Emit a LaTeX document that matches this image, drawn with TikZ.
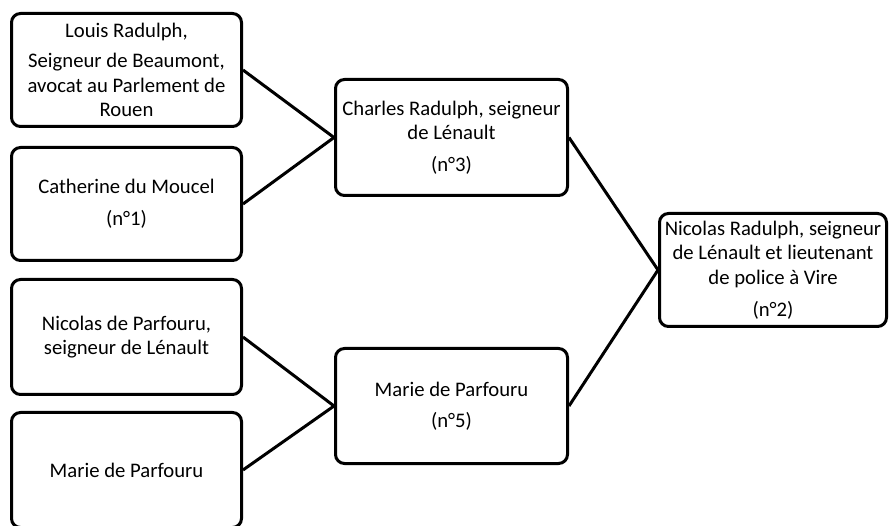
\documentclass[tikz,border=0pt]{standalone}
\usepackage{fontspec}
\setmainfont{Carlito}
\begin{document}
\begin{tikzpicture}[x=1pt,y=-1pt,
  person/.style={draw=black, line width=3pt, rounded corners=9pt, fill=white,
    align=center, inner sep=0pt, font=\fontsize{20.7}{24.5}\selectfont},
  link/.style={line width=3pt}]
\useasboundingbox (0,0) rectangle (889,526);
\node[person, minimum width=230pt, minimum height=113pt] (a) at (126.5,70)
  {Louis Radulph,\\[6pt]Seigneur de Beaumont,\\avocat au Parlement de\\Rouen};
\node[person, minimum width=230pt, minimum height=113pt] (b) at (126.5,204)
  {Catherine du Moucel\\[7pt](n°1)};
\node[person, minimum width=230pt, minimum height=115pt] (c) at (126.5,337)
  {Nicolas de Parfouru,\\seigneur de Lénault};
\node[person, minimum width=230pt, minimum height=115pt] (d) at (126.5,470)
  {Marie de Parfouru};
\node[person, minimum width=232pt, minimum height=116pt] (e) at (451.5,137.5)
  {Charles Radulph, seigneur\\de Lénault\\[7pt](n°3)};
\node[person, minimum width=232pt, minimum height=115pt] (f) at (451.5,406)
  {Marie de Parfouru\\[7pt](n°5)};
\node[person, minimum width=227pt, minimum height=113pt] (g) at (773,270)
  {Nicolas Radulph, seigneur\\de Lénault et lieutenant\\de police à Vire\\[7pt](n°2)};
\draw[link] (a.east) -- (e.west);
\draw[link] (b.east) -- (e.west);
\draw[link] (c.east) -- (f.west);
\draw[link] (d.east) -- (f.west);
\draw[link] (e.east) -- (g.west);
\draw[link] (f.east) -- (g.west);
\end{tikzpicture}
\end{document}
